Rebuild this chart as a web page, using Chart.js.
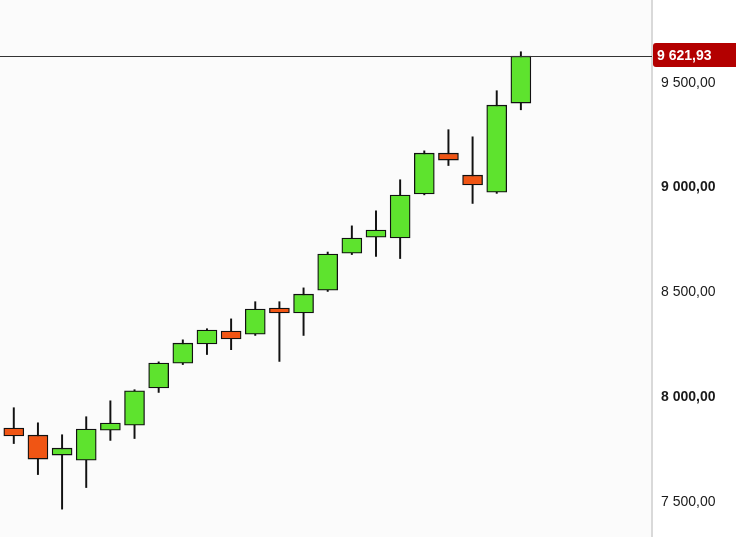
<!DOCTYPE html>
<html>
<head>
<meta charset="utf-8">
<script src="https://cdn.jsdelivr.net/npm/chart.js@4.4.1/dist/chart.umd.min.js"></script>
<style>
html,body{margin:0;padding:0;background:#ffffff;}
canvas{display:block;}
</style>
</head>
<body>
<canvas id="c" width="736" height="537"></canvas>
<script>
const openPrices  = [7847, 7813, 7718, 7694, 7837, 7861, 8038, 8157, 8248, 8310, 8295, 8420, 8396, 8505, 8682, 8758, 8754, 8964, 9159, 9054, 8973, 9398];
const highPrices  = [7944, 7872, 7815, 7901, 7977, 8030, 8163, 8268, 8321, 8368, 8450, 8450, 8516, 8687, 8812, 8884, 9032, 9170, 9271, 9237, 9457, 9643];
const lowPrices   = [7773, 7625, 7460, 7563, 7788, 7797, 8017, 8150, 8198, 8221, 8289, 8165, 8289, 8499, 8675, 8666, 8656, 8960, 9100, 8919, 8967, 9366];
const closePrices = [7809, 7699, 7751, 7842, 7871, 8025, 8157, 8252, 8315, 8272, 8415, 8396, 8486, 8677, 8754, 8792, 8959, 9159, 9126, 9007, 9388, 9621.93];
const yTickValues = [7500, 8000, 8500, 9000, 9500];

const UP = '#5ee32e', DOWN = '#f05514';

function fmt(v){
  const parts = v.toFixed(2).split('.');
  const intPart = parts[0].replace(/\B(?=(\d{3})+(?!\d))/g, ' ');
  return intPart + ',' + parts[1];
}

const bodies = openPrices.map((o,i)=>({x:i, y:[o, closePrices[i]]}));
const wicks = lowPrices.map((l,i)=>({x:i, y:[l, highPrices[i]]}));
const bodyColors = openPrices.map((o,i)=> closePrices[i] >= o ? UP : DOWN);
const lastClose = closePrices[closePrices.length-1];

const bgPlugin = {
  id:'bg',
  beforeDraw(chart){
    const {ctx, chartArea:a} = chart;
    ctx.save();
    ctx.fillStyle = '#fbfbfb';
    ctx.fillRect(a.left, a.top, a.right-a.left, a.bottom-a.top);
    ctx.restore();
  },
  afterDraw(chart){
    const {ctx, chartArea:a} = chart;
    const y = chart.scales.y.getPixelForValue(lastClose);
    ctx.save();
    ctx.strokeStyle = '#333333';
    ctx.lineWidth = 1;
    ctx.beginPath();
    ctx.moveTo(a.left, Math.round(y)+0.5);
    ctx.lineTo(a.right, Math.round(y)+0.5);
    ctx.stroke();
    // price tag
    const x0 = a.right + 1, w = chart.width - x0, h = 24;
    const top = Math.round(y) - 13;
    ctx.fillStyle = '#b30000';
    ctx.beginPath();
    if (ctx.roundRect) ctx.roundRect(x0, top, w, h, [3,0,0,3]); else ctx.rect(x0, top, w, h);
    ctx.fill();
    ctx.fillStyle = '#ffffff';
    ctx.font = 'bold 14px "Liberation Sans", Arial, sans-serif';
    ctx.textBaseline = 'middle';
    ctx.textAlign = 'left';
    ctx.fillText(fmt(lastClose), x0 + 4, top + h/2 + 1);
    ctx.restore();
  }
};

new Chart(document.getElementById('c'), {
  type:'bar',
  data:{
    datasets:[
      {
        label:'body',
        data: bodies,
        backgroundColor: bodyColors,
        borderColor:'#111111',
        borderWidth:1.3,
        borderSkipped:false,
        barThickness:20,
        grouped:false,
        order:0
      },
      {
        label:'wick',
        data: wicks,
        backgroundColor:'#111111',
        borderWidth:0,
        barThickness:1.3,
        grouped:false,
        order:1
      }
    ]
  },
  options:{
    responsive:false,
    animation:false,
    layout:{padding:0},
    plugins:{legend:{display:false}, tooltip:{enabled:false}},
    scales:{
      x:{
        type:'linear',
        display:false,
        min:-0.571,
        max:26.43,
        offset:false
      },
      y:{
        position:'right',
        min:7327,
        max:9890,
        grid:{display:false, drawTicks:false},
        border:{display:true, color:'#d9d9d9', width:2},
        afterFit(scale){ scale.width = 84; scale.paddingTop = 0; scale.paddingBottom = 0; },
        afterBuildTicks(scale){ scale.ticks = yTickValues.map(v=>({value:v})); },
        ticks:{
          padding:9,
          labelOffset:1,
          color:'#1a1a1a',
          font: ctx => ({family:'"Liberation Sans", Arial, sans-serif', size:14, weight: (ctx.tick && ctx.tick.value % 1000 === 0) ? 'bold' : 'normal'}),
          callback: v => fmt(v)
        }
      }
    }
  },
  plugins:[bgPlugin]
});
</script>
</body>
</html>
